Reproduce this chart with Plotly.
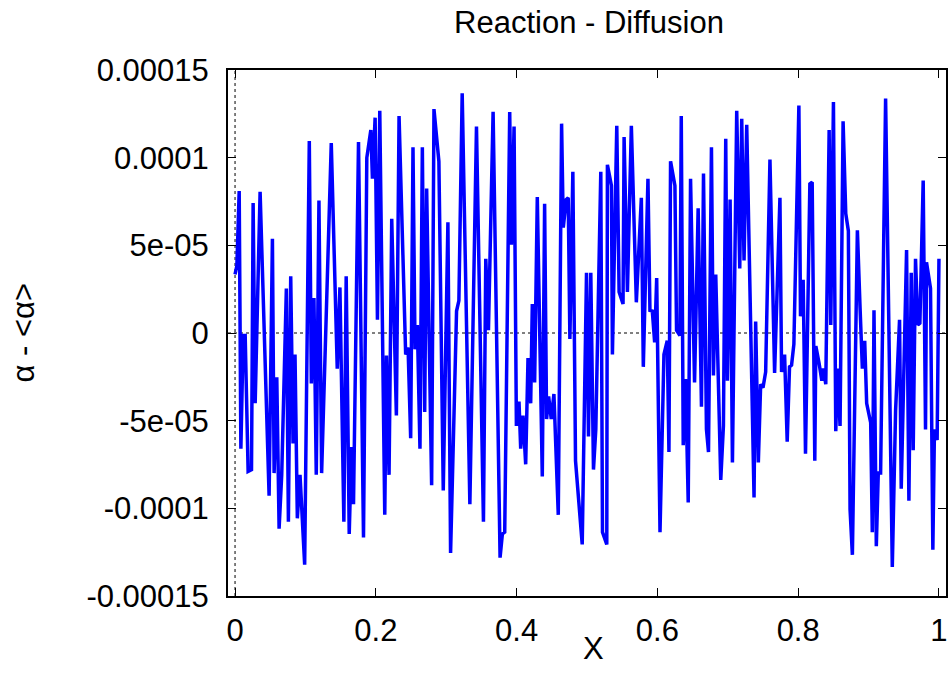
import plotly.graph_objects as go

# ---- data (x position, alpha - <alpha> in units of 1e-5) ----
x_vals = [
    0.000, 0.0026, 0.0059, 0.0083, 0.0116, 0.0144, 0.0186, 0.0234, 0.0257, 0.0286,
    0.0356, 0.0484, 0.0531, 0.0555, 0.0593, 0.0626, 0.0663, 0.0729, 0.0758, 0.0791,
    0.0824, 0.0852, 0.0885, 0.0923, 0.0989, 0.1055, 0.1084, 0.1121, 0.1154, 0.1192,
    0.1230, 0.1367, 0.1452, 0.1490, 0.1546, 0.1579,
    0.1622, 0.1655, 0.1683, 0.1754, 0.1825, 0.1872, 0.1929, 0.1952, 0.1990, 0.2023,
    0.2056, 0.2127, 0.2151, 0.2188, 0.2226, 0.2292, 0.2330, 0.2424, 0.2458, 0.2495,
    0.2528, 0.2557, 0.2590, 0.2627, 0.2661, 0.2694, 0.2722, 0.2793, 0.2826, 0.2896,
    0.2958, 0.3024, 0.3062, 0.3147, 0.3180, 0.3227,
    0.3336, 0.3430, 0.3529, 0.3562, 0.3600, 0.3666, 0.3765, 0.3798, 0.3831, 0.3902,
    0.3926, 0.3964, 0.3997, 0.4034, 0.4058, 0.4091, 0.4129, 0.4162, 0.4200, 0.4223,
    0.4256, 0.4294, 0.4365, 0.4398, 0.4426, 0.4455, 0.4492, 0.4530, 0.4592, 0.4639,
    0.4663, 0.4705, 0.4733, 0.4757, 0.4799, 0.4837,
    0.4932, 0.4993, 0.5021, 0.5054, 0.5092, 0.5125, 0.5196, 0.5220, 0.5281, 0.5290,
    0.5347, 0.5361, 0.5423, 0.5456, 0.5512, 0.5527, 0.5574, 0.5630, 0.5701, 0.5772,
    0.5800, 0.5866, 0.5894, 0.5928, 0.5961, 0.5990, 0.6037, 0.6093, 0.6140, 0.6164,
    0.6187, 0.6249, 0.6272, 0.6320, 0.6339, 0.6367, 0.6400, 0.6438, 0.6471, 0.6528,
    0.6579, 0.6626, 0.6655, 0.6697, 0.6726, 0.6768, 0.6796, 0.6829, 0.6900, 0.6938,
    0.6971, 0.6995, 0.7033, 0.7066, 0.7127, 0.7170, 0.7198, 0.7231, 0.7269, 0.7373,
    0.7396, 0.7434, 0.7467, 0.7500, 0.7538, 0.7599, 0.7665, 0.7741, 0.7764, 0.7807,
    0.7844, 0.7877, 0.7906, 0.7939, 0.8010, 0.8033, 0.8071, 0.8104, 0.8166, 0.8199,
    0.8236,
    0.8251, 0.8297, 0.8336, 0.8359, 0.8392, 0.8440, 0.8463, 0.8501, 0.8534, 0.8558,
    0.8595, 0.8638, 0.8676, 0.8713, 0.8737, 0.8770, 0.8841, 0.8879, 0.8912, 0.8945,
    0.8973, 0.9030, 0.9053, 0.9077, 0.9110, 0.9138, 0.9171, 0.9242, 0.9337, 0.9384,
    0.9440, 0.9464, 0.9540, 0.9573, 0.9606, 0.9634, 0.9667, 0.9700, 0.9729, 0.9776,
    0.9809, 0.9823, 0.9880, 0.9913, 0.9936, 0.9974, 1.0000,
]

alpha_dev_e5 = [
    3.34, 3.83, 8.10, -6.60, -0.14, -0.14, -7.89, -7.79, 7.41, -4.01,
    8.05, -9.28, 5.38, -7.99, -2.52, -11.16, -8.09, 2.54, -10.77, 3.24,
    -6.30, -1.23, -10.57, -8.09, -13.21, 10.95, -2.88, 1.99, -8.09, 7.55,
    -7.99, 10.83, -2.03, 2.60, -10.77, 3.24,
    -11.46, -6.50, -9.77, 10.89, -11.66, 9.99, 11.58, 8.80, 12.28, 0.75,
    12.67, -10.37, -1.29, -8.09, 6.52, -4.71, 12.38, -1.23, -0.83, -6.00,
    10.59, -0.93, 0.46, -6.60, 10.59, -4.51, 8.24, -8.68, 12.77, 9.79,
    -8.98, 6.32, -12.55, 1.25, 1.85, 13.67,
    -9.77, 11.78, -10.77, 4.23, 0.16, 12.61, -12.81, -11.46, -11.36, 12.61,
    5.03, 11.78, -5.30, -3.91, -6.60, -4.71, -7.49, -1.43, -4.01, 1.65,
    -2.82, 7.75, -8.18, 7.37, -4.91, -3.62, -4.91, -3.48, -10.37, 11.94,
    6.02, 7.61, 7.71, -0.34, 9.20, -7.29,
    -12.06, 3.44, -5.90, 3.44, -7.79, -5.50, 9.20, -11.36, -12.06, 9.59,
    8.40, -1.23, 11.82, 2.34, 1.65, 11.18, 2.34, 11.82, 1.75, 7.71,
    -1.93, 8.80, 1.29, 1.25, -0.54, 3.14, -11.36, -1.23, -0.44, -6.79,
    9.79, 8.40, 0.16, -0.14, 12.38, -6.40, -2.62, -9.67, 8.80, -2.82,
    7.11, -4.21, 9.10, -5.50, -6.79, 10.59, -2.42, 3.34, -8.38, -5.30,
    11.08, -2.72, 7.61, -7.39, 12.67, 3.68, 12.22, 4.13, 11.88, -9.38,
    0.66, -7.39, -2.92, -3.12, -2.22, 9.89, -2.28, 7.71, -2.22, -1.23,
    -6.20, -1.93, -1.83, -0.64, 12.97, 0.95, 3.04, -6.89, 8.50, 8.60,
    -7.29,
    -0.74, -1.73, -2.72, -2.03, -2.92, 11.58, 0.46, 13.17, -5.60, -2.03,
    -5.30, 12.08, 6.81, 5.82, -10.07, -12.65, 5.86, 1.45, -2.03, -0.44,
    -4.01, -5.11, -11.36, 1.29, -12.16, -7.99, -7.99, 13.37, -13.35, -4.41,
    0.75, -8.88, 4.73, -9.57, 3.44, -6.69, 4.23, 0.46, 0.56, 8.70,
    -5.50, 4.03, 2.54, -12.36, -5.50, -6.10, 4.23,
]

x_tick_vals = [0, 0.2, 0.4, 0.6, 0.8, 1.0]
x_tick_text = ["0", "0.2", "0.4", "0.6", "0.8", "1"]
y_tick_vals = [0.00015, 0.0001, 0.00005, 0, -0.00005, -0.0001, -0.00015]
y_tick_text = ["0.00015", "0.0001", "5e-05", "0", "-5e-05", "-0.0001", "-0.00015"]

title_text = "Reaction - Diffusion"
x_label = "X"
y_label = "α - &lt;α&gt;"

# ---- figure ----
y_vals = [v * 1e-5 for v in alpha_dev_e5]
FONT = "Liberation Sans, Arial, sans-serif"
FS = 31
W, H = 948, 687
L, R, T, B = 228, 0, 70, 91

fig = go.Figure()
fig.add_trace(go.Scatter(
    x=x_vals, y=y_vals, mode="lines",
    line=dict(color="#0000ff", width=3.5),
    showlegend=False, hoverinfo="skip",
))

axis_common = dict(
    showgrid=False, zeroline=False, showline=True, linecolor="black", linewidth=2,
    mirror="ticks", ticks="inside", ticklen=8, tickwidth=1, tickcolor="black",
    tickfont=dict(family=FONT, size=FS, color="black"),
)

fig.update_xaxes(range=[-0.01, 1.01], tickmode="array", tickvals=x_tick_vals,
                 ticktext=x_tick_text, ticklabelstandoff=6, **axis_common)
fig.update_yaxes(range=[-0.00015, 0.00015], tickmode="array", tickvals=y_tick_vals,
                 ticktext=y_tick_text, ticklabelstandoff=11, **axis_common)

# dotted zero axes (gnuplot "set zeroaxis")
fig.add_shape(type="line", xref="paper", yref="y", x0=0, x1=1, y0=0, y1=0,
              line=dict(color="black", width=1, dash="dot"), layer="below")
fig.add_shape(type="line", xref="x", yref="paper", x0=0, x1=0, y0=0, y1=1,
              line=dict(color="black", width=1, dash="dot"), layer="below")

pw = W - L - R
ph = H - T - B
fig.add_annotation(text=x_label, xref="paper", yref="paper",
                   x=(595 - L) / pw, y=-(648 - (H - B)) / ph,
                   xanchor="center", yanchor="middle", showarrow=False,
                   font=dict(family=FONT, size=FS, color="black"))
fig.add_annotation(text=y_label, xref="paper", yref="paper",
                   x=(22 - L) / pw, y=0.5, textangle=-90,
                   xanchor="center", yanchor="middle", showarrow=False,
                   font=dict(family=FONT, size=FS, color="black"))

fig.update_layout(
    width=W, height=H,
    margin=dict(l=L, r=R, t=T, b=B, pad=0),
    paper_bgcolor="white", plot_bgcolor="white",
    title=dict(text=title_text, x=589 / W, xanchor="center",
               y=1 - 22 / H, yanchor="middle", yref="container",
               font=dict(family=FONT, size=FS, color="black")),
)

fig.write_html(
    "out.html",
    config={"displayModeBar": False, "staticPlot": True},
    post_script="document.body.style.margin='0';document.body.style.overflow='hidden';",
)
